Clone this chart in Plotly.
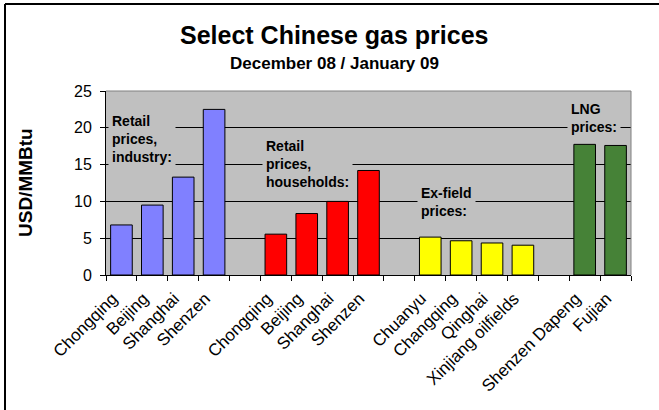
import plotly.graph_objects as go

# categories per group (blank slots separate the groups)
industry_cities = ["Chongqing", "Beijing", "Shanghai", "Shenzen"]
household_cities = ["Chongqing", "Beijing", "Shanghai", "Shenzen"]
exfield_fields = ["Chuanyu", "Changqing", "Qinghai", "Xinjiang oilfields"]
lng_terminals = ["Shenzen Dapeng", "Fujian"]

# USD/MMBtu
industry_prices = [6.8, 9.5, 13.3, 22.5]
household_prices = [5.55, 8.35, 10.0, 14.2]
exfield_prices = [5.15, 4.65, 4.35, 4.05]
lng_prices = [17.75, 17.6]

y_ticks = [0, 5, 10, 15, 20, 25]

GROUP_COLORS = ["#8080FF", "#FF0000", "#FFFF00", "#468237"]
PLOT_BG = "#C0C0C0"
FONT = "Liberation Sans, Arial, sans-serif"

W, H = 659, 410
L, R, T, B = 106, 631, 91, 275  # plot area in pixels


def px_x(x):
    return (x - L) / (R - L)


def px_y(y):
    return (B - y) / (B - T)


groups = [
    (industry_cities, industry_prices),
    (household_cities, household_prices),
    (exfield_fields, exfield_prices),
    (lng_terminals, lng_prices),
]

# build unique category keys; labels repeat so tag them with zero-width spaces
cat_keys, cat_labels = [], []
trace_data = []
for gi, (names, vals) in enumerate(groups):
    keys = [n + "\u200b" * gi for n in names]
    cat_keys += keys
    cat_labels += names
    trace_data.append((keys, vals))
    if gi < len(groups) - 1:
        blank = "\u2009" * (gi + 1)
        cat_keys.append(blank)
        cat_labels.append("")

fig = go.Figure()
for gi, (keys, vals) in enumerate(trace_data):
    fig.add_trace(go.Bar(
        x=keys, y=vals, marker=dict(color=GROUP_COLORS[gi], line=dict(color="#000000", width=1)),
        showlegend=False, hoverinfo="x+y"
    ))

notes = [
    ("Retail<br>prices,<br>industry:", 108, 109),
    ("Retail<br>prices,<br>households:", 262, 134),
    ("Ex-field<br>prices:", 417, 181),
    ("LNG<br>prices:", 567, 97),
]
annotations = []
for txt, xp, yp in notes:
    annotations.append(dict(
        text=f"<b>{txt}</b>", x=px_x(xp), y=px_y(yp), xref="paper", yref="paper",
        xanchor="left", yanchor="top", align="left", showarrow=False,
        bgcolor=PLOT_BG, borderpad=3, font=dict(family=FONT, size=14, color="#000000")
    ))

annotations += [
    dict(text="<b>Select Chinese gas prices</b>", x=px_x(333.5), y=px_y(35), xref="paper", yref="paper",
         xanchor="center", yanchor="middle", showarrow=False, font=dict(family=FONT, size=25, color="#000000")),
    dict(text="<b>December 08 / January 09</b>", x=px_x(334), y=px_y(63), xref="paper", yref="paper",
         xanchor="center", yanchor="middle", showarrow=False, font=dict(family=FONT, size=17, color="#000000")),
    dict(text="<b>USD/MMBtu</b>", x=px_x(25), y=px_y(183), xref="paper", yref="paper", textangle=-90,
         xanchor="center", yanchor="middle", showarrow=False, font=dict(family=FONT, size=19, color="#000000")),
]

shapes = [
    # outer chart frame (top and left only visible)
    dict(type="line", xref="paper", yref="paper", x0=px_x(5), x1=px_x(W + 5), y0=px_y(4), y1=px_y(4),
         line=dict(color="#000000", width=2)),
    dict(type="line", xref="paper", yref="paper", x0=px_x(5), x1=px_x(5), y0=px_y(4), y1=px_y(H + 5),
         line=dict(color="#000000", width=2)),
    # grey plot-area border on top and right
    dict(type="line", xref="paper", yref="paper", x0=0, x1=1, y0=1, y1=1, line=dict(color="#808080", width=1)),
    dict(type="line", xref="paper", yref="paper", x0=1, x1=1, y0=0, y1=1, line=dict(color="#808080", width=1)),
]

fig.update_layout(
    width=W, height=H, margin=dict(l=L, r=W - R, t=T, b=H - B),
    paper_bgcolor="#FFFFFF", plot_bgcolor=PLOT_BG,
    bargap=0.3, barmode="group",
    font=dict(family=FONT, color="#000000"),
    annotations=annotations, shapes=shapes,
    xaxis=dict(
        type="category", categoryorder="array", categoryarray=cat_keys,
        tickmode="array", tickvals=cat_keys, ticktext=cat_labels,
        tickangle=-45, tickfont=dict(size=17, family=FONT), tickson="boundaries",
        ticklabelstandoff=6, ticklabelshift=-9,
        ticks="outside", ticklen=5, tickcolor="#000000",
        showline=True, linecolor="#000000", linewidth=1, showgrid=False,
    ),
    yaxis=dict(
        range=[0, 25], tickvals=y_ticks, tickfont=dict(size=16, family=FONT),
        ticks="outside", ticklen=5, tickcolor="#000000", ticklabelstandoff=5,
        showline=True, linecolor="#000000", linewidth=1,
        showgrid=True, gridcolor="#000000", gridwidth=1, zeroline=False,
    ),
)

# page body has an 8px margin by default; drop it so the figure sits at the window corner
fig.write_html("out.html", config={"displayModeBar": False},
               post_script="document.body.style.margin='0';")
